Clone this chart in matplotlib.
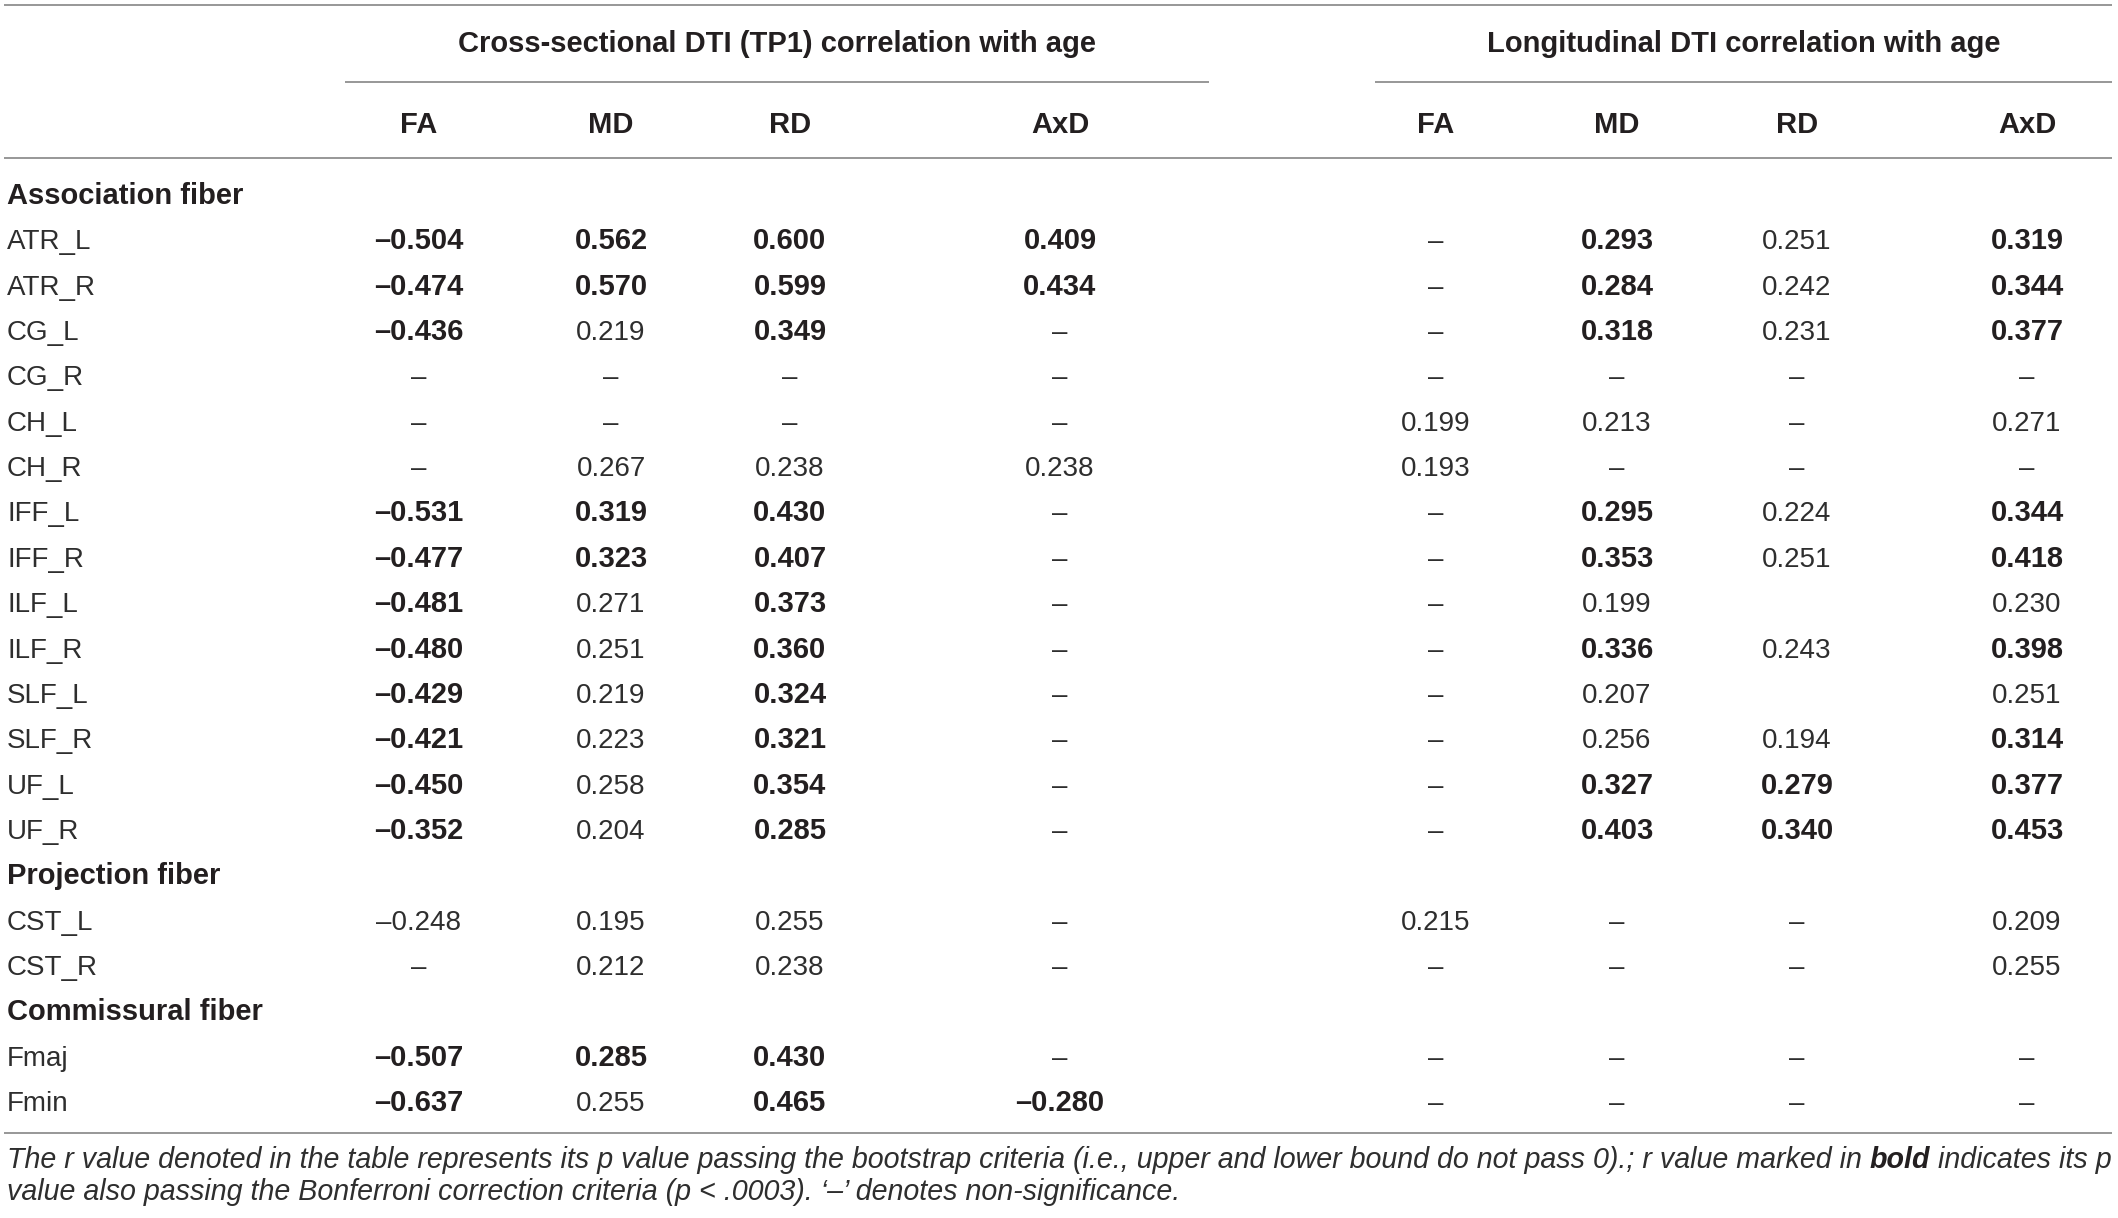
import matplotlib
matplotlib.use("Agg")
import matplotlib.pyplot as plt

# ---------------- data ----------------
group_titles = ["Cross-sectional DTI (TP1) correlation with age",
                "Longitudinal DTI correlation with age"]
metrics = ["FA", "MD", "RD", "AxD"]

section_names = ["Association fiber", "Projection fiber", "Commissural fiber"]
assoc_tracts = ["ATR_L", "ATR_R", "CG_L", "CG_R", "CH_L", "CH_R", "IFF_L", "IFF_R",
                "ILF_L", "ILF_R", "SLF_L", "SLF_R", "UF_L", "UF_R"]
proj_tracts = ["CST_L", "CST_R"]
comm_tracts = ["Fmaj", "Fmin"]

# "–" = non-significant, "" = empty cell
cross_vals = [
    ["–0.504", "0.562", "0.600", "0.409"],
    ["–0.474", "0.570", "0.599", "0.434"],
    ["–0.436", "0.219", "0.349", "–"],
    ["–", "–", "–", "–"],
    ["–", "–", "–", "–"],
    ["–", "0.267", "0.238", "0.238"],
    ["–0.531", "0.319", "0.430", "–"],
    ["–0.477", "0.323", "0.407", "–"],
    ["–0.481", "0.271", "0.373", "–"],
    ["–0.480", "0.251", "0.360", "–"],
    ["–0.429", "0.219", "0.324", "–"],
    ["–0.421", "0.223", "0.321", "–"],
    ["–0.450", "0.258", "0.354", "–"],
    ["–0.352", "0.204", "0.285", "–"],
    ["–0.248", "0.195", "0.255", "–"],
    ["–", "0.212", "0.238", "–"],
    ["–0.507", "0.285", "0.430", "–"],
    ["–0.637", "0.255", "0.465", "–0.280"],
]
cross_bold = [
    [1, 1, 1, 1], [1, 1, 1, 1], [1, 0, 1, 0], [0, 0, 0, 0], [0, 0, 0, 0],
    [0, 0, 0, 0], [1, 1, 1, 0], [1, 1, 1, 0], [1, 0, 1, 0], [1, 0, 1, 0],
    [1, 0, 1, 0], [1, 0, 1, 0], [1, 0, 1, 0], [1, 0, 1, 0],
    [0, 0, 0, 0], [0, 0, 0, 0],
    [1, 1, 1, 0], [1, 0, 1, 1],
]
long_vals = [
    ["–", "0.293", "0.251", "0.319"],
    ["–", "0.284", "0.242", "0.344"],
    ["–", "0.318", "0.231", "0.377"],
    ["–", "–", "–", "–"],
    ["0.199", "0.213", "–", "0.271"],
    ["0.193", "–", "–", "–"],
    ["–", "0.295", "0.224", "0.344"],
    ["–", "0.353", "0.251", "0.418"],
    ["–", "0.199", "", "0.230"],
    ["–", "0.336", "0.243", "0.398"],
    ["–", "0.207", "", "0.251"],
    ["–", "0.256", "0.194", "0.314"],
    ["–", "0.327", "0.279", "0.377"],
    ["–", "0.403", "0.340", "0.453"],
    ["0.215", "–", "–", "0.209"],
    ["–", "–", "–", "0.255"],
    ["–", "–", "–", "–"],
    ["–", "–", "–", "–"],
]
long_bold = [
    [0, 1, 0, 1], [0, 1, 0, 1], [0, 1, 0, 1], [0, 0, 0, 0], [0, 0, 0, 0],
    [0, 0, 0, 0], [0, 1, 0, 1], [0, 1, 0, 1], [0, 0, 0, 0], [0, 1, 0, 1],
    [0, 0, 0, 0], [0, 0, 0, 1], [0, 1, 1, 1], [0, 1, 1, 1],
    [0, 0, 0, 0], [0, 0, 0, 0],
    [0, 0, 0, 0], [0, 0, 0, 0],
]
footnote1 = ["The r value denoted in the table represents its p value passing the bootstrap "
             "criteria (i.e., upper and lower bound do not pass 0).; r value marked in ",
             "bold", " indicates its p"]
footnote2 = "value also passing the Bonferroni correction criteria (p < .0003). \u2018\u2013\u2019 denotes non-significance."

# ---------------- layout ----------------
W, H = 2118, 1218
FONT = "Liberation Sans"
FS = 20
FSB = 21
TXT = "#231f20"
NORMAL_C = "#2e2e2e"
LINE_C = "#8f8f8f"
LW = 1.3

plt.rcParams["font.family"] = [FONT, "DejaVu Sans"]

fig = plt.figure(figsize=(W / 100, H / 100), dpi=100)
ax = fig.add_axes([0, 0, 1, 1])
ax.set_xlim(0, W)
ax.set_ylim(H, 0)
ax.axis("off")

label_x = 7
cross_x = [419, 611, 790, 1060]
long_x = [1436, 1617, 1797, 2027]
group_spans = [(345, 1209), (1375, 2112)]

# horizontal rules
ax.plot([4, 2112], [5, 5], color=LINE_C, lw=LW, solid_capstyle="butt")
for (x0, x1) in group_spans:
    ax.plot([x0, x1], [82, 82], color=LINE_C, lw=LW, solid_capstyle="butt")
ax.plot([4, 2112], [158, 158], color=LINE_C, lw=LW, solid_capstyle="butt")
ax.plot([4, 2112], [1133, 1133], color=LINE_C, lw=LW, solid_capstyle="butt")

# group titles
for (x0, x1), t in zip(group_spans, group_titles):
    ax.text((x0 + x1) / 2, 52, t, ha="center", va="baseline", fontsize=FSB,
            fontweight="bold", color=TXT)
# metric headers
for xs in (cross_x, long_x):
    for x, m in zip(xs, metrics):
        ax.text(x, 133, m, ha="center", va="baseline", fontsize=FSB,
                fontweight="bold", color=TXT)

# body rows
row_base0 = 204
row_step = 45.35
ri = 0  # visual row index
di = 0  # data row index
for sec, tracts in zip(section_names, [assoc_tracts, proj_tracts, comm_tracts]):
    yb = row_base0 + ri * row_step
    ax.text(label_x, yb, sec, ha="left", va="baseline", fontsize=FSB,
            fontweight="bold", color=TXT)
    ri += 1
    for tr in tracts:
        yb = row_base0 + ri * row_step
        ax.text(label_x, yb, tr, ha="left", va="baseline", fontsize=FS,
                color=NORMAL_C)
        for xs, vals, bolds in ((cross_x, cross_vals, cross_bold),
                                (long_x, long_vals, long_bold)):
            for x, v, b in zip(xs, vals[di], bolds[di]):
                if v == "":
                    continue
                ax.text(x, yb, v, ha="center", va="baseline",
                        fontsize=FSB if b else FS,
                        fontweight="bold" if b else "normal",
                        color=TXT if b else NORMAL_C)
        ri += 1
        di += 1

# footnote (italic, with bold-italic word)
fig.canvas.draw()
renderer = fig.canvas.get_renderer()
inv = ax.transData.inverted()


def text_width(t):
    bb = t.get_window_extent(renderer=renderer)
    p0 = inv.transform((bb.x0, bb.y0))
    p1 = inv.transform((bb.x1, bb.y0))
    return p1[0] - p0[0]


fs_foot = FS
target = 2110 - label_x
for _ in range(3):
    xs_ = label_x
    parts = []
    for k, seg in enumerate(footnote1):
        t = ax.text(xs_, 1168, seg, ha="left", va="baseline", fontsize=fs_foot,
                    style="italic", fontweight="bold" if k == 1 else "normal",
                    color=NORMAL_C if k != 1 else TXT)
        parts.append(t)
        xs_ += text_width(t)
    total = xs_ - label_x
    if abs(total - target) < 3:
        break
    for t in parts:
        t.remove()
    fs_foot = fs_foot * target / total

ax.text(label_x, 1200, footnote2, ha="left", va="baseline", fontsize=fs_foot,
        style="italic", color=NORMAL_C)

fig.savefig("out.png", dpi=100)
